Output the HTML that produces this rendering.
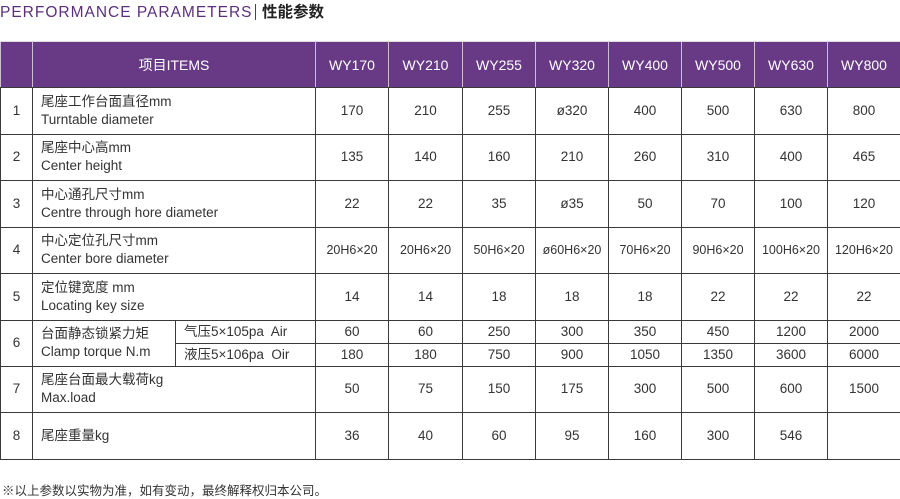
<!DOCTYPE html>
<html><head><meta charset="utf-8"><style>
body{margin:0;width:900px;height:494px;background:#fff;font-family:"Liberation Sans","Noto Sans CJK SC",sans-serif;color:#333;position:relative;overflow:hidden}
.title{position:absolute;left:0;top:0;font-size:15.5px;color:#5b2f7c;letter-spacing:1px;white-space:nowrap}
.title b{color:#222;font-weight:bold;letter-spacing:0}
.title i{display:inline-block;width:1.5px;height:16px;background:#444;vertical-align:-3px;margin:0 6px 0 2px}
table{position:absolute;left:0;top:41px;border-collapse:collapse;table-layout:fixed;width:900px;font-size:13.5px}
td{border:1.5px solid #3a3a3a;text-align:center;padding:0;line-height:18px}
tr.h td{background:#683985;color:#fff;height:45px;border-color:#ddd #c9c0d1 #3a3a3a #c9c0d1;font-size:14px}
td.l{text-align:left;padding-left:8px}
tr.r td{height:45.5px}
tr.s td{height:22px}
td.d{font-size:12.5px}
.note{position:absolute;left:2px;top:480px;font-size:12.5px;color:#333}
</style></head><body>
<div class="title">PERFORMANCE PARAMETERS<i></i><b>性能参数</b></div>
<table>
<colgroup><col style="width:32px"><col style="width:143px"><col style="width:140px"><col style="width:73px"><col style="width:74px"><col style="width:73px"><col style="width:73px"><col style="width:73px"><col style="width:73px"><col style="width:73px"><col style="width:73px"></colgroup>
<tr class="h"><td></td><td colspan="2">项目ITEMS</td><td>WY170</td><td>WY210</td><td>WY255</td><td>WY320</td><td>WY400</td><td>WY500</td><td>WY630</td><td>WY800</td></tr>
<tr class="r"><td>1</td><td class="l" colspan="2">尾座工作台面直径mm<br>Turntable diameter</td><td>170</td><td>210</td><td>255</td><td>ø320</td><td>400</td><td>500</td><td>630</td><td>800</td></tr>
<tr class="r"><td>2</td><td class="l" colspan="2">尾座中心高mm<br>Center height</td><td>135</td><td>140</td><td>160</td><td>210</td><td>260</td><td>310</td><td>400</td><td>465</td></tr>
<tr class="r"><td>3</td><td class="l" colspan="2">中心通孔尺寸mm<br>Centre through hore diameter</td><td>22</td><td>22</td><td>35</td><td>ø35</td><td>50</td><td>70</td><td>100</td><td>120</td></tr>
<tr class="r"><td>4</td><td class="l" colspan="2">中心定位孔尺寸mm<br>Center bore diameter</td><td class="d">20H6×20</td><td class="d">20H6×20</td><td class="d">50H6×20</td><td class="d">ø60H6×20</td><td class="d">70H6×20</td><td class="d">90H6×20</td><td class="d">100H6×20</td><td class="d">120H6×20</td></tr>
<tr class="r"><td>5</td><td class="l" colspan="2">定位键宽度 mm<br>Locating key size</td><td>14</td><td>14</td><td>18</td><td>18</td><td>18</td><td>22</td><td>22</td><td>22</td></tr>
<tr class="s"><td rowspan="2">6</td><td class="l" rowspan="2">台面静态锁紧力矩<br>Clamp torque N.m</td><td class="l">气压5×105pa&nbsp; Air</td><td>60</td><td>60</td><td>250</td><td>300</td><td>350</td><td>450</td><td>1200</td><td>2000</td></tr>
<tr class="s"><td class="l">液压5×106pa&nbsp; Oir</td><td>180</td><td>180</td><td>750</td><td>900</td><td>1050</td><td>1350</td><td>3600</td><td>6000</td></tr>
<tr class="r"><td>7</td><td class="l" colspan="2">尾座台面最大载荷kg<br>Max.load</td><td>50</td><td>75</td><td>150</td><td>175</td><td>300</td><td>500</td><td>600</td><td>1500</td></tr>
<tr class="r"><td>8</td><td class="l" colspan="2">尾座重量kg</td><td>36</td><td>40</td><td>60</td><td>95</td><td>160</td><td>300</td><td>546</td><td></td></tr>
</table>
<div class="note">※以上参数以实物为准，如有变动，最终解释权归本公司。</div>
</body></html>
